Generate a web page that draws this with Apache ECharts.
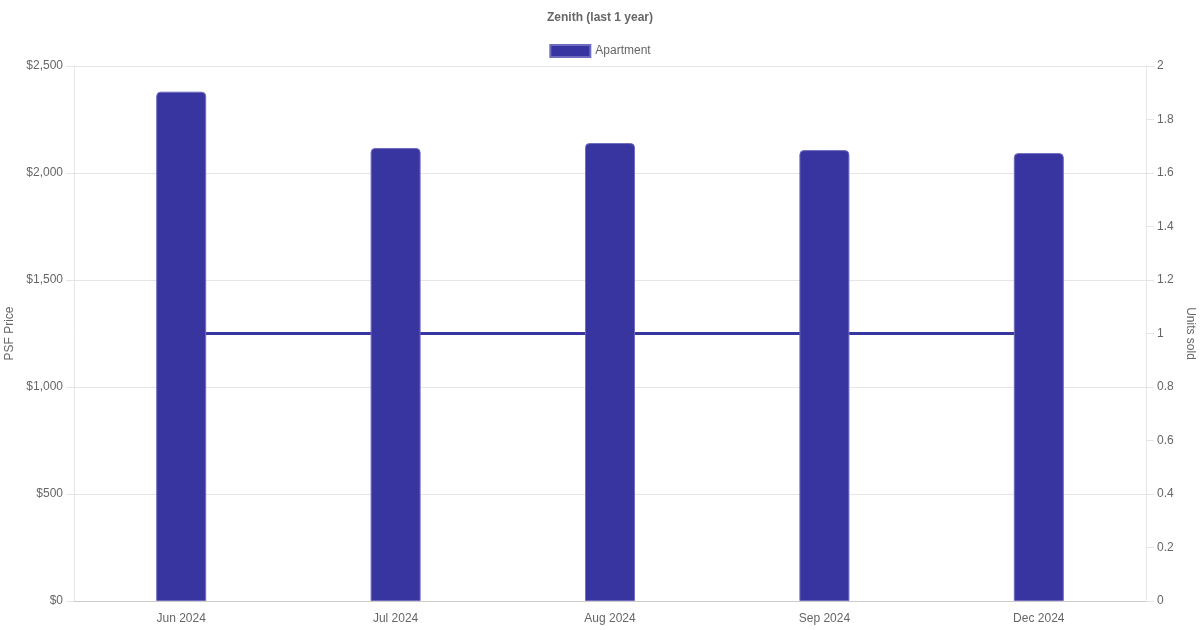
<!DOCTYPE html>
<html>
<head>
<meta charset="utf-8">
<script src="https://cdn.jsdelivr.net/npm/echarts@6/dist/echarts.min.js"></script>
<style>
html,body{margin:0;padding:0;background:#fff;}
#chart{width:1200px;height:630px;}
</style>
</head>
<body>
<div id="chart"></div>
<script>
const categories = ['Jun 2024', 'Jul 2024', 'Aug 2024', 'Sep 2024', 'Dec 2024'];
const psfPrice = [2380, 2117, 2140, 2107, 2093];
const unitsSold = [1, 1, 1, 1, 1];

const FONT = '"Liberation Sans", Arial, Helvetica, sans-serif';
const TXT = '#666';
const GRID = '#e5e5e5';
const BAR = '#3935a0';

const chart = echarts.init(document.getElementById('chart'), null, {renderer: 'canvas'});
chart.setOption({
  animation: false,
  backgroundColor: '#fff',
  textStyle: {fontFamily: FONT},
  title: {
    text: 'Zenith (last 1 year)',
    left: 'center',
    top: 7,
    textStyle: {fontSize: 12, fontWeight: 'bold', color: TXT, fontFamily: FONT}
  },
  legend: {
    data: ['Apartment'],
    top: 39,
    left: 'center',
    itemWidth: 40,
    itemHeight: 12,
    itemGap: 10,
    textStyle: {fontSize: 12, color: TXT, fontFamily: FONT},
    icon: 'rect'
  },
  grid: {left: 74, right: 54, top: 66, bottom: 29, containLabel: false, outerBoundsMode: 'none'},
  xAxis: {
    type: 'category',
    data: categories,
    axisLine: {show: true, lineStyle: {color: '#ccc', width: 1}},
    axisTick: {show: false},
    axisLabel: {color: TXT, fontSize: 12, margin: 12, fontFamily: FONT},
    splitLine: {show: false}
  },
  yAxis: [
    {
      type: 'value',
      min: 0, max: 2500, interval: 500,
      name: 'PSF Price',
      nameLocation: 'middle',
      nameGap: 54,
      nameTextStyle: {color: TXT, fontSize: 12, fontFamily: FONT},
      axisLine: {show: true, lineStyle: {color: GRID}},
      axisTick: {show: true, length: 8, lineStyle: {color: GRID}},
      axisLabel: {
        color: TXT, fontSize: 12, margin: 11, fontFamily: FONT,
        formatter: v => '$' + v.toLocaleString('en-US')
      },
      splitLine: {show: true, lineStyle: {color: GRID}}
    },
    {
      type: 'value',
      min: 0, max: 2, interval: 0.2,
      position: 'right',
      name: 'Units sold',
      nameLocation: 'middle',
      nameGap: 34,
      nameRotate: -90,
      nameTextStyle: {color: TXT, fontSize: 12, fontFamily: FONT},
      axisLine: {show: true, lineStyle: {color: GRID}},
      axisTick: {show: true, length: 8, lineStyle: {color: GRID}},
      axisLabel: {color: TXT, fontSize: 12, margin: 11, fontFamily: FONT},
      splitLine: {show: false}
    }
  ],
  series: [
    {
      name: 'Units sold',
      type: 'line',
      yAxisIndex: 1,
      data: unitsSold,
      showSymbol: false,
      z: 1,
      lineStyle: {color: BAR, width: 3},
      itemStyle: {color: BAR}
    },
    {
      name: 'Apartment',
      type: 'bar',
      yAxisIndex: 0,
      data: psfPrice,
      barWidth: 50,
      z: 3,
      itemStyle: {
        color: BAR,
        borderColor: '#6f6cc0',
        borderWidth: 1,
        borderRadius: [4, 4, 0, 0]
      }
    }
  ]
});
</script>
</body>
</html>
